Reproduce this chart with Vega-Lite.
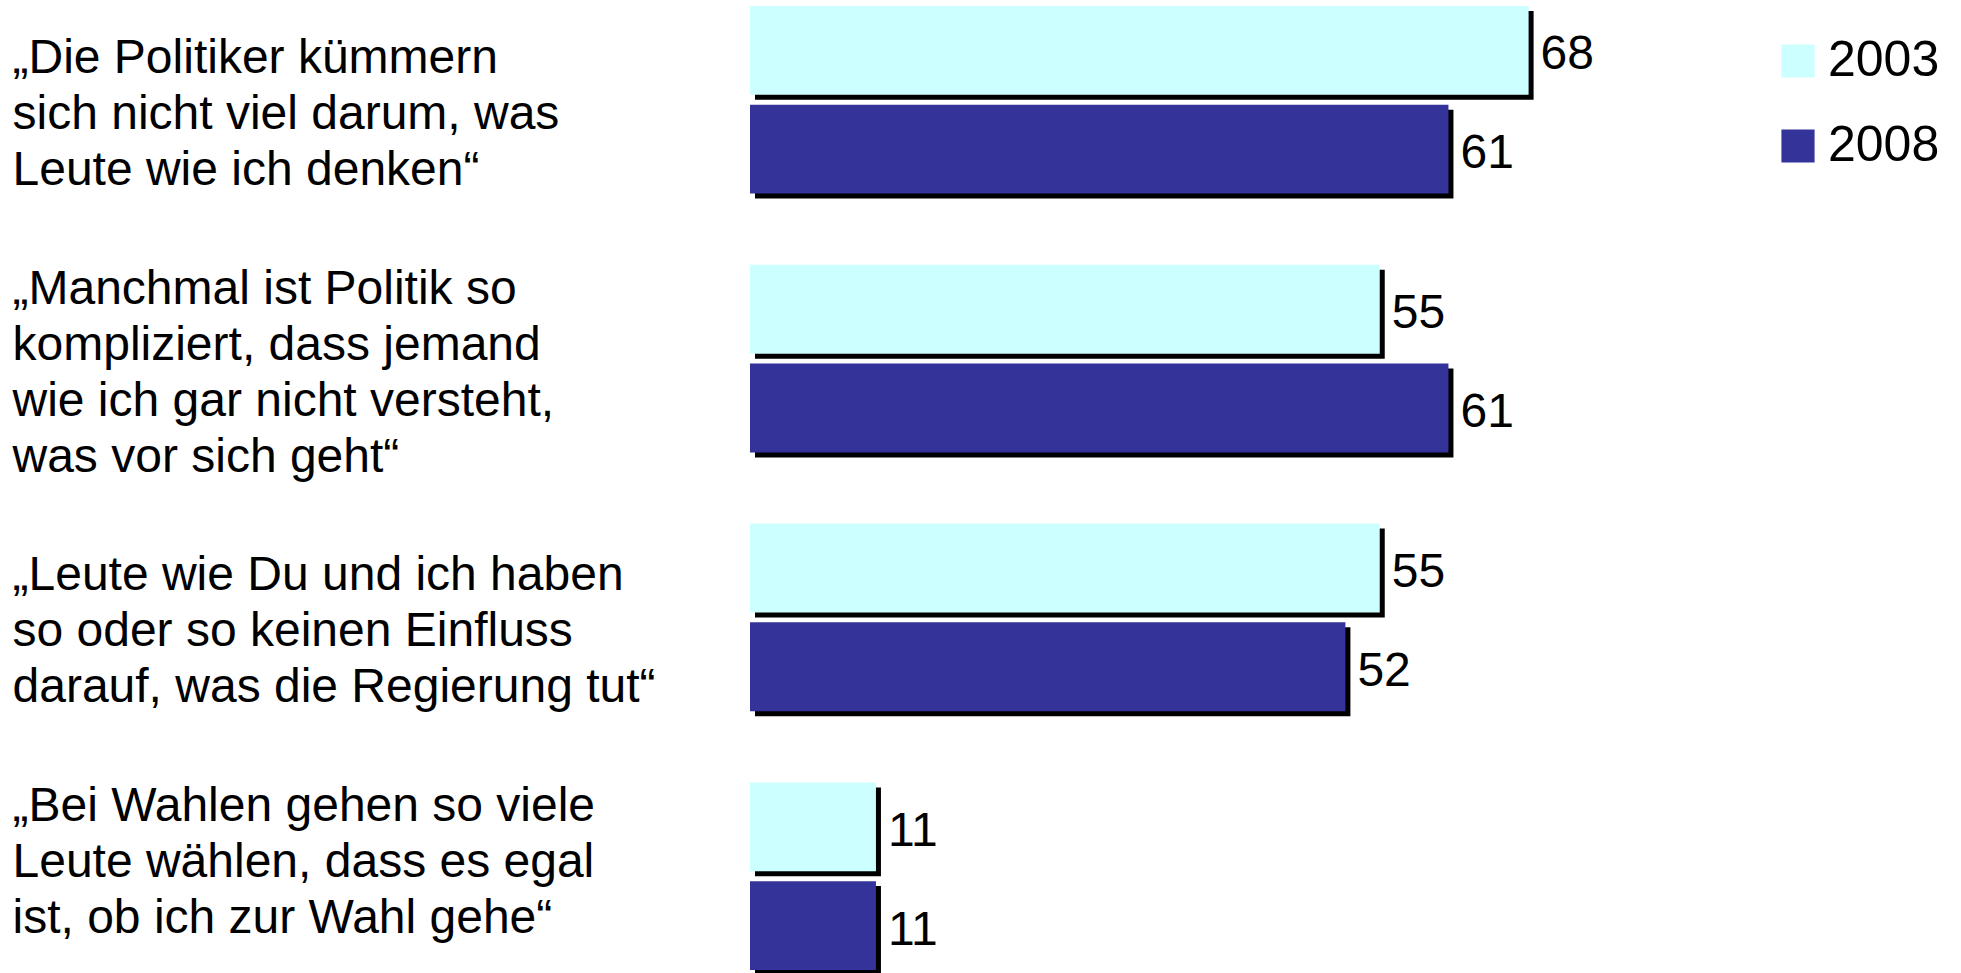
{
  "$schema": "https://vega.github.io/schema/vega-lite/v6.json",
  "autosize": {"type": "none"},
  "width": 1145,
  "height": 964,
  "padding": {"left": 750, "top": 6, "right": 66, "bottom": 3},
  "background": "white",
  "config": {"view": {"stroke": null}, "font": "Liberation Sans"},
  "data": {
    "values": [
      {"q": "„Die Politiker kümmern|sich nicht viel darum, was|Leute wie ich denken“", "year": "2003", "value": 68},
      {"q": "„Die Politiker kümmern|sich nicht viel darum, was|Leute wie ich denken“", "year": "2008", "value": 61},
      {"q": "„Manchmal ist Politik so|kompliziert, dass jemand|wie ich gar nicht versteht,|was vor sich geht“", "year": "2003", "value": 55},
      {"q": "„Manchmal ist Politik so|kompliziert, dass jemand|wie ich gar nicht versteht,|was vor sich geht“", "year": "2008", "value": 61},
      {"q": "„Leute wie Du und ich haben|so oder so keinen Einfluss|darauf, was die Regierung tut“", "year": "2003", "value": 55},
      {"q": "„Leute wie Du und ich haben|so oder so keinen Einfluss|darauf, was die Regierung tut“", "year": "2008", "value": 52},
      {"q": "„Bei Wahlen gehen so viele|Leute wählen, dass es egal|ist, ob ich zur Wahl gehe“", "year": "2003", "value": 11},
      {"q": "„Bei Wahlen gehen so viele|Leute wählen, dass es egal|ist, ob ich zur Wahl gehe“", "year": "2008", "value": 11}
    ]
  },
  "resolve": {"scale": {"yOffset": "independent"}},
  "encoding": {
    "y": {
      "field": "q", "type": "nominal", "sort": null,
      "scale": {"paddingInner": 0.275, "paddingOuter": 0},
      "axis": {
        "title": null, "domain": false, "ticks": false, "tickSize": 0, "grid": false,
        "labelAlign": "left", "labelPadding": 738, "labelBaseline": "middle",
        "labelFont": "Liberation Sans", "labelFontSize": 48, "labelColor": "black",
        "labelLineHeight": 56, "labelLimit": 1000, "labelOverlap": false,
        "labelOffset": {
          "condition": {"test": "indexof(datum.value, 'Manchmal') >= 0 || indexof(datum.value, 'Bei Wahlen') >= 0", "value": -69},
          "value": -41
        },
        "labelExpr": "split(datum.label, '|')"
      }
    },
    "x": {
      "field": "value", "type": "quantitative",
      "scale": {"domain": [0, 100], "nice": false},
      "axis": null
    }
  },
  "layer": [
    {
      "mark": {"type": "bar", "color": "black", "xOffset": 5, "x2Offset": 5},
      "encoding": {
        "yOffset": {
          "field": "year", "type": "nominal",
          "scale": {"paddingInner": 0.1, "paddingOuter": 0, "range": [5, 192.62]}
        }
      }
    },
    {
      "layer": [
        {
          "mark": {"type": "bar"},
          "encoding": {
            "color": {
              "field": "year", "type": "nominal",
              "scale": {"domain": ["2003", "2008"], "range": ["#CCFFFF", "#333399"]},
              "legend": {
                "title": null, "orient": "none", "legendX": 1023, "legendY": 30,
                "symbolType": "square", "symbolSize": 1100, "symbolStrokeWidth": 0,
                "labelFont": "Liberation Sans", "labelFontSize": 50, "labelColor": "black",
                "labelOffset": 5, "rowPadding": 35, "padding": 0
              }
            }
          }
        },
        {
          "mark": {"type": "text", "align": "left", "baseline": "middle", "dx": 12, "dy": 5, "fontSize": 48, "font": "Liberation Sans", "color": "black"},
          "encoding": {"text": {"field": "value", "type": "quantitative"}}
        }
      ],
      "encoding": {
        "yOffset": {
          "field": "year", "type": "nominal",
          "scale": {"paddingInner": 0.1, "paddingOuter": 0}
        }
      }
    }
  ]
}
